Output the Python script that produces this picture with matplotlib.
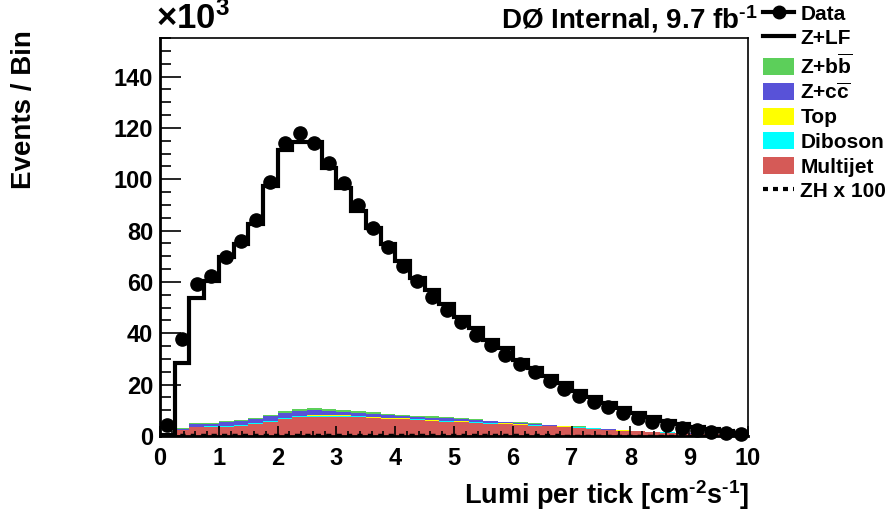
import numpy as np
import matplotlib
matplotlib.use("Agg")
import matplotlib.pyplot as plt
from matplotlib.patches import Patch
from matplotlib.lines import Line2D
from matplotlib.ticker import MultipleLocator

plt.rcParams['font.family'] = ['Liberation Sans', 'DejaVu Sans']
plt.rcParams['font.weight'] = 'bold'
plt.rcParams['mathtext.fontset'] = 'custom'
plt.rcParams['mathtext.rm'] = 'Liberation Sans:bold'
plt.rcParams['mathtext.bf'] = 'Liberation Sans:bold'
plt.rcParams['mathtext.default'] = 'rm'

# 40 bins of 0.25 from 0 to 10, values in units of 10^3 events
bin_edges = np.linspace(0, 10, 41)

data = [4.3, 37.8, 59.3, 62.5, 69.7, 75.8, 84.2, 99.0, 114.1, 118.0,
        114.1, 106.3, 98.5, 89.9, 81.0, 73.8, 66.4, 60.2, 54.2, 48.9,
        44.3, 39.5, 35.3, 31.6, 28.1, 24.8, 21.6, 18.4, 15.6, 13.4,
        11.2, 9.1, 7.1, 5.6, 4.3, 3.0, 2.3, 1.7, 1.0, 0.8]

multijet = [0.1, 2.3, 3.4, 3.6, 3.6, 4.0, 4.7, 5.6, 6.7, 7.5,
            7.5, 7.5, 7.5, 7.5, 6.9, 6.5, 6.5, 6.2, 5.7, 5.6,
            5.3, 5.1, 4.7, 4.6, 4.2, 3.9, 3.7, 3.5, 3.3, 2.9,
            2.3, 2.0, 1.8, 1.5, 1.3, 1.2, 0.9, 0.8, 0.6, 0.4]
diboson = [0.0, 0.1, 0.2, 0.2, 0.25, 0.25, 0.3, 0.3, 0.35, 0.35,
           0.35, 0.35, 0.35, 0.3, 0.3, 0.3, 0.3, 0.3, 0.3, 0.25,
           0.25, 0.25, 0.2, 0.2, 0.2, 0.2, 0.15, 0.15, 0.15, 0.15,
           0.15, 0.1, 0.1, 0.1, 0.1, 0.05, 0.05, 0.05, 0.05, 0.05]
top = [0.0, 0.05, 0.05, 0.05, 0.05, 0.05, 0.1, 0.1, 0.1, 0.1,
       0.15, 0.15, 0.15, 0.15, 0.15, 0.15, 0.1, 0.1, 0.1, 0.1,
       0.1, 0.1, 0.1, 0.1, 0.1, 0.05, 0.05, 0.05, 0.05, 0.05,
       0.05, 0.05, 0.0, 0.0, 0.0, 0.0, 0.0, 0.0, 0.0, 0.0]
zcc = [0.05, 0.45, 0.85, 0.75, 1.5, 1.6, 1.4, 1.6, 1.8, 1.85,
       2.2, 1.8, 1.5, 1.2, 1.3, 1.15, 0.85, 0.85, 1.05, 0.95,
       0.85, 0.7, 0.65, 0.4, 0.5, 0.5, 0.3, 0.15, 0.1, 0.05,
       0.1, 0.1, 0.05, 0.05, 0.05, 0.03, 0.03, 0.03, 0.03, 0.03]
zbb = [0.05, 0.2, 0.4, 0.4, 0.5, 0.5, 0.5, 0.6, 0.65, 0.7,
       0.7, 0.6, 0.6, 0.55, 0.55, 0.5, 0.45, 0.45, 0.45, 0.4,
       0.4, 0.35, 0.35, 0.3, 0.3, 0.25, 0.2, 0.15, 0.1, 0.05,
       0.1, 0.05, 0.05, 0.05, 0.05, 0.02, 0.02, 0.02, 0.02, 0.02]
zlf = [0.1, 25.5, 48.8, 55.2, 64.0, 68.5, 75.6, 89.0, 101.9, 103.9,
       103.5, 94.0, 86.5, 78.1, 71.8, 66.3, 59.8, 53.8, 49.3, 44.2,
       39.6, 35.5, 31.4, 28.6, 24.3, 21.5, 19.0, 16.5, 14.0, 12.1,
       10.0, 8.5, 6.8, 5.6, 4.3, 3.4, 2.4, 1.7, 1.2, 0.8]
zh_x100 = [0.0, 0.2, 0.3, 0.35, 0.4, 0.4, 0.45, 0.5, 0.55, 0.55,
           0.55, 0.5, 0.5, 0.45, 0.45, 0.4, 0.4, 0.35, 0.35, 0.3,
           0.3, 0.3, 0.25, 0.25, 0.2, 0.2, 0.2, 0.15, 0.15, 0.15,
           0.1, 0.1, 0.1, 0.1, 0.05, 0.05, 0.05, 0.05, 0.05, 0.05]

stack = [("Multijet", multijet, "#d55a57"),
         ("Diboson", diboson, "#00ffff"),
         ("Top", top, "#ffff00"),
         ("Z+c$\\overline{\\rm c}$", zcc, "#5852d8"),
         ("Z+b$\\overline{\\rm b}$", zbb, "#5ccf5a")]

fig = plt.figure(figsize=(8.91, 5.12), dpi=100)
ax = fig.add_axes([160 / 891, 1 - 436 / 512, 588 / 891, 398 / 512])

bottom = np.zeros(len(bin_edges) - 1)
for name, vals, col in stack:
    vals = np.asarray(vals)
    ax.stairs(bottom + vals, bin_edges, baseline=bottom, fill=True,
              color=col, lw=0)
    bottom = bottom + vals

total = bottom + np.asarray(zlf)
ax.stairs(total, bin_edges, baseline=None, color="black", lw=3)
ax.stairs(zh_x100, bin_edges, baseline=None, color="black", lw=2.5,
          ls=(0, (1.5, 1.5)))

centers = 0.5 * (bin_edges[:-1] + bin_edges[1:])
ax.plot(centers, data, "o", color="black", ms=9.5, clip_on=False, zorder=5)

ax.set_xlim(0, 10)
ax.set_ylim(0, 155)
ax.xaxis.set_major_locator(MultipleLocator(1))
ax.xaxis.set_minor_locator(MultipleLocator(0.2))
ax.yaxis.set_major_locator(MultipleLocator(20))
ax.yaxis.set_minor_locator(MultipleLocator(5))
ax.tick_params(axis="x", which="major", direction="in", length=7, width=1.2,
               labelsize=17, pad=8, top=False)
ax.tick_params(axis="x", which="minor", direction="in", length=3.5, width=1.2,
               top=False)
ax.tick_params(axis="y", which="major", direction="in", length=15, width=1.2,
               labelsize=17, pad=5, right=False)
ax.tick_params(axis="y", which="minor", direction="in", length=8, width=1.2,
               right=False)
for lab in ax.get_xticklabels() + ax.get_yticklabels():
    lab.set_fontweight("bold")
for sp in ax.spines.values():
    sp.set_linewidth(1.2)
ax.spines["left"].set_linewidth(2)
ax.spines["bottom"].set_linewidth(2)

fig.text(24 / 891, 1 - 30 / 512, "Events / Bin", rotation=90, ha="center",
         va="top", fontsize=20, fontweight="bold")
fig.text(749 / 891, 1 - 495 / 512, "Lumi per tick [cm$^{\\text{-2}}$s$^{\\text{-1}}$]",
         ha="right", va="center", fontsize=19.5, fontweight="bold")
fig.text(156 / 891, 1 - 19 / 512, "\u00d710$^{3}$", ha="left", va="center",
         fontsize=25, fontweight="bold")
fig.text(758 / 891, 1 - 19 / 512, "D\u00d8 Internal, 9.7 fb$^{\\text{-1}}$",
         ha="right", va="center", fontsize=20, fontweight="bold")

handles = [Line2D([], [], color="black", lw=3, marker="o", ms=9),
           Line2D([], [], color="black", lw=3)]
labels = ["Data", "Z+LF"]
for name, vals, col in reversed(stack):
    handles.append(Patch(facecolor=col, edgecolor="none"))
    labels.append(name)
handles.append(Line2D([], [], color="black", lw=3, ls=(0, (1.2, 1.2))))
labels.append("ZH x 100")

fig.legend(handles, labels, loc="upper left",
           bbox_to_anchor=(763 / 891, 1 - 4 / 512), frameon=False,
           prop={"weight": "bold", "size": 15},
           handlelength=1.5, handleheight=0.85, handletextpad=0.3,
           labelspacing=0.24, borderpad=0, borderaxespad=0)

fig.savefig("out.png", dpi=100)
